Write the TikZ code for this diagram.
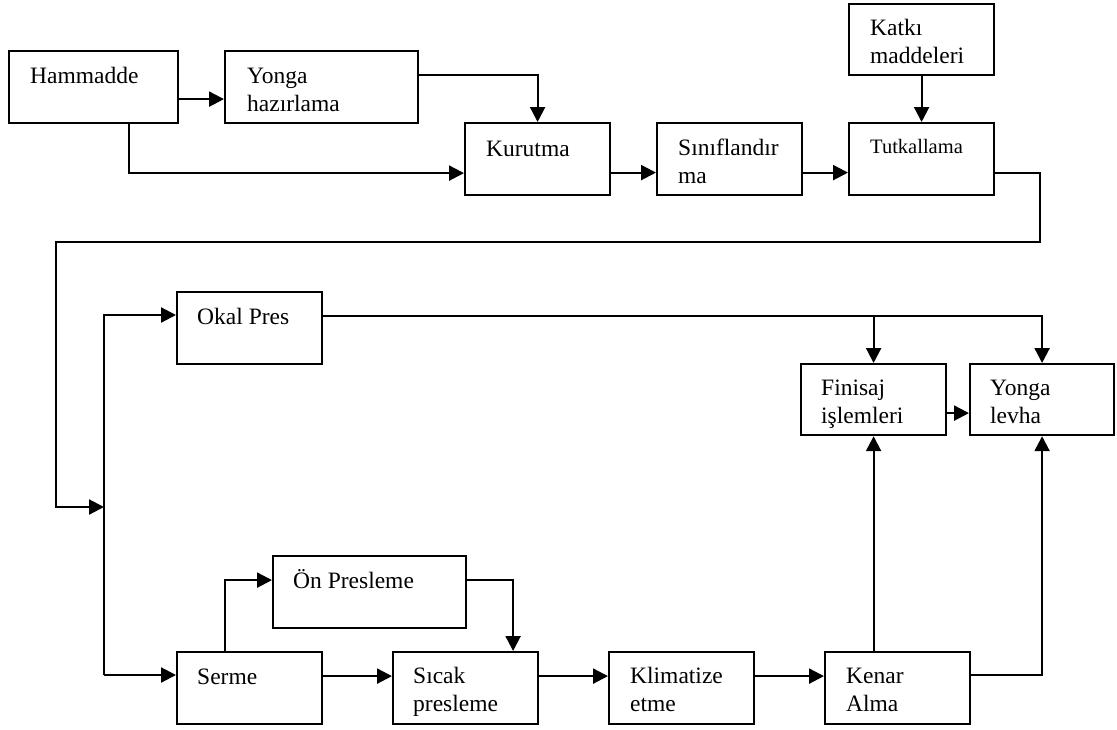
\documentclass[tikz,border=0pt]{standalone}
\usepackage{fontspec}
\setmainfont{Liberation Serif}
\usetikzlibrary{arrows.meta}
\newcommand\lines[1]{\begin{tabular}{@{}l@{}}#1\end{tabular}}
\begin{document}
\begin{tikzpicture}[x=1pt,y=-1pt,
  box/.style={draw, line width=2.2pt, anchor=north west, inner sep=0pt, minimum width=145pt, minimum height=72pt},
  lbl/.style={anchor=north west, inner sep=0pt, font=\fontsize{23.5}{28}\selectfont},
  lblsmall/.style={anchor=north west, inner sep=0pt, font=\fontsize{20.5}{28}\selectfont},
  arr/.style={line width=2.2pt, -{Triangle[length=15pt,width=15pt]}}]
\useasboundingbox (0,0) rectangle (1117,729);
% boxes
\node[box, minimum width=169pt] (hm) at (8,50) {};
\node[box, minimum width=193pt] (yh) at (224,50) {};
\node[box] (ku) at (464,122) {};
\node[box] (si) at (656,122) {};
\node[box] (tu) at (848,122) {};
\node[box, minimum height=71pt] (ka) at (848,3) {};
\node[box] (ok) at (176,291) {};
\node[box, minimum height=71pt] (fi) at (800,363) {};
\node[box, minimum width=144pt, minimum height=71pt] (yl) at (969,363) {};
\node[box, minimum width=193pt] (on) at (272,555) {};
\node[box] (se) at (176,651) {};
\node[box] (sp) at (392,651) {};
\node[box] (kl) at (608,651) {};
\node[box] (ke) at (824,651) {};
% labels
\node[lbl] (hm-t) at ([xshift=22pt,yshift=-13.4pt]hm.north west) {\lines{Hammadde}};
\node[lbl] (yh-t) at ([xshift=23pt,yshift=-13.4pt]yh.north west) {\lines{Yonga\\hazırlama}};
\node[lbl] (ku-t) at ([xshift=22pt,yshift=-14.4pt]ku.north west) {\lines{Kurutma}};
\node[lbl] (si-t) at ([xshift=22pt,yshift=-13.4pt]si.north west) {\lines{Sınıflandır\\ma}};
\node[lblsmall] (tu-t) at ([xshift=22pt,yshift=-11.4pt]tu.north west) {\lines{Tutkallama}};
\node[lbl] (ka-t) at ([xshift=22pt,yshift=-12.4pt]ka.north west) {\lines{Katkı\\maddeleri}};
\node[lbl] (ok-t) at ([xshift=21pt,yshift=-13.4pt]ok.north west) {\lines{Okal Pres}};
\node[lbl] (fi-t) at ([xshift=21pt,yshift=-12.4pt]fi.north west) {\lines{Finisaj\\işlemleri}};
\node[lbl] (yl-t) at ([xshift=21pt,yshift=-12.4pt]yl.north west) {\lines{Yonga\\levha}};
\node[lbl] (on-t) at ([xshift=21pt,yshift=-13.4pt]on.north west) {\lines{Ön Presleme}};
\node[lbl] (se-t) at ([xshift=21pt,yshift=-13.4pt]se.north west) {\lines{Serme}};
\node[lbl] (sp-t) at ([xshift=21pt,yshift=-12.4pt]sp.north west) {\lines{Sıcak\\presleme}};
\node[lbl] (kl-t) at ([xshift=22pt,yshift=-12.4pt]kl.north west) {\lines{Klimatize\\etme}};
\node[lbl] (ke-t) at ([xshift=22pt,yshift=-12.4pt]ke.north west) {\lines{Kenar\\Alma}};
% coordinates
\coordinate (fb1) at (1040,242);
\coordinate (fb2) at (56,507);
\coordinate (j) at (104,507);
\coordinate (bt) at (104,315);
\coordinate (bb) at (104,675);
% connectors
\draw[arr] ([yshift=-12pt]hm.east) -- ([yshift=-12pt]yh.west);
\draw[arr] ([yshift=12pt]yh.east) -| (ku.north);
\draw[arr] ([xshift=35.5pt]hm.south) |- ([yshift=-14pt]ku.west);
\draw[arr] ([yshift=-13.5pt]ku.east) -- ([yshift=-13.5pt]si.west);
\draw[arr] ([yshift=-13.5pt]si.east) -- ([yshift=-13.5pt]tu.west);
\draw[arr] (ka.south) -- (tu.north);
\draw[arr] ([yshift=-13.5pt]tu.east) -| (fb1) -| (fb2) -- (j);
\draw[arr] (bb) -- (bt) -- (bt -| ok.west);
\draw[arr] (bb) -- (bb -| se.west);
\coordinate (ot) at ([yshift=12pt]ok.east);
\draw[arr] (ot) -| (yl.north);
\draw[arr] (ot -| fi.north) -- (fi.north);
\draw[arr] ([yshift=-13.5pt]fi.east) -- ([yshift=-13.5pt]yl.west);
\draw[arr] (fi.south |- ke.north) -- (fi.south);
\draw[arr] ([yshift=13pt]ke.east) -| (yl.south);
\draw[arr] ([yshift=12pt]se.east) -- ([yshift=12pt]sp.west);
\draw[arr] ([yshift=12pt]sp.east) -- ([yshift=12pt]kl.west);
\draw[arr] ([yshift=12pt]kl.east) -- ([yshift=12pt]ke.west);
\draw[arr] ([xshift=-24.5pt]se.north) |- ([yshift=12pt]on.west);
\draw[arr] ([yshift=12pt]on.east) -| ([xshift=47.5pt]sp.north);
\end{tikzpicture}
\end{document}
